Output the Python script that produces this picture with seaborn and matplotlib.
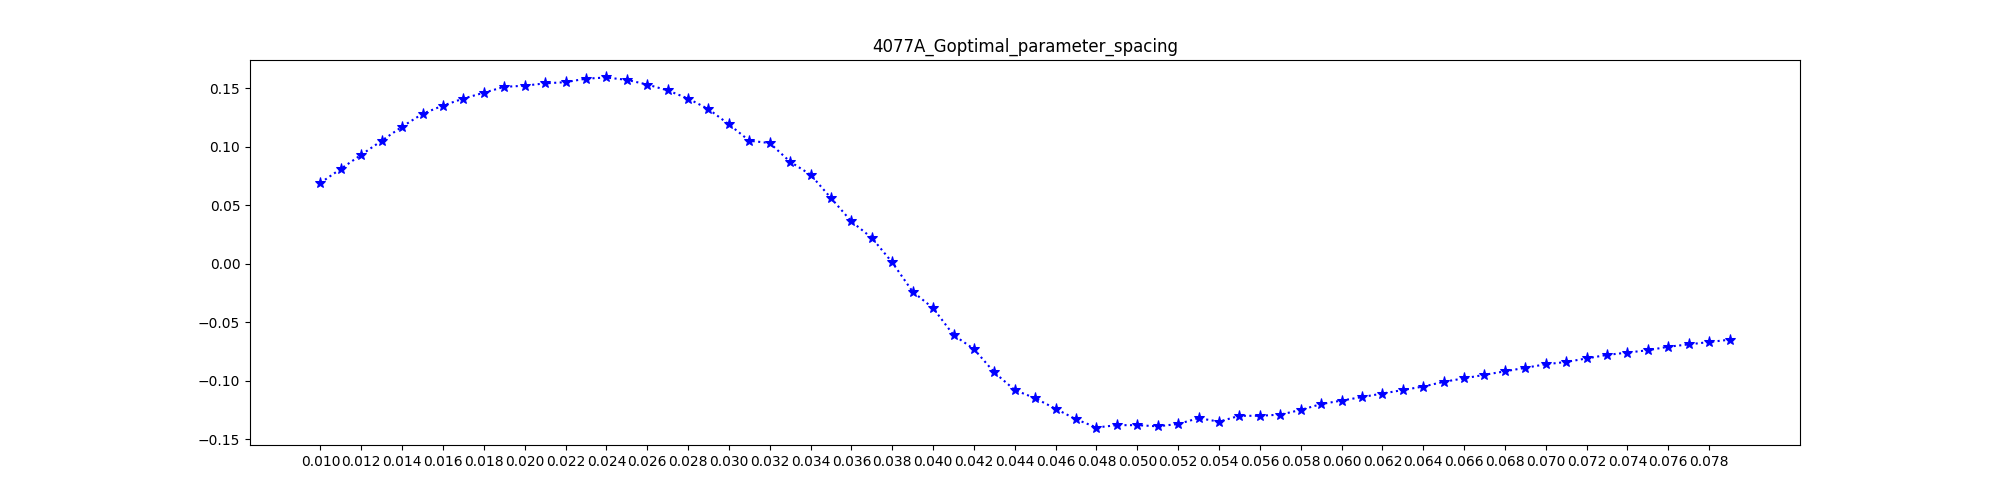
import numpy as np
import seaborn as sns
import matplotlib.pyplot as plt

spacing = np.round(np.arange(0.010, 0.0795, 0.001), 3)
values = [0.069, 0.081, 0.093, 0.105, 0.117, 0.128, 0.135, 0.141, 0.146, 0.151,
          0.152, 0.154, 0.155, 0.158, 0.159, 0.157, 0.153, 0.148, 0.141, 0.132,
          0.119, 0.105, 0.103, 0.087, 0.076, 0.056, 0.036, 0.022, 0.001, -0.024,
          -0.038, -0.061, -0.073, -0.093, -0.108, -0.115, -0.124, -0.133, -0.140, -0.138,
          -0.138, -0.139, -0.137, -0.132, -0.135, -0.130, -0.130, -0.129, -0.125, -0.120,
          -0.117, -0.114, -0.111, -0.108, -0.105, -0.101, -0.098, -0.095, -0.092, -0.089,
          -0.086, -0.084, -0.081, -0.078, -0.076, -0.074, -0.071, -0.069, -0.067, -0.065]
xticks = np.round(np.arange(0.010, 0.079, 0.002), 3)

fig, ax = plt.subplots(figsize=(20, 5), dpi=100)
sns.lineplot(x=spacing, y=values, ax=ax, color='blue', linestyle=':', marker='*',
             markersize=8, markeredgecolor='blue')
ax.set_xticks(xticks)
ax.set_xticklabels([f'{t:.3f}' for t in xticks])
ax.set_title('4077A_Goptimal_parameter_spacing')
plt.savefig('out.png')
